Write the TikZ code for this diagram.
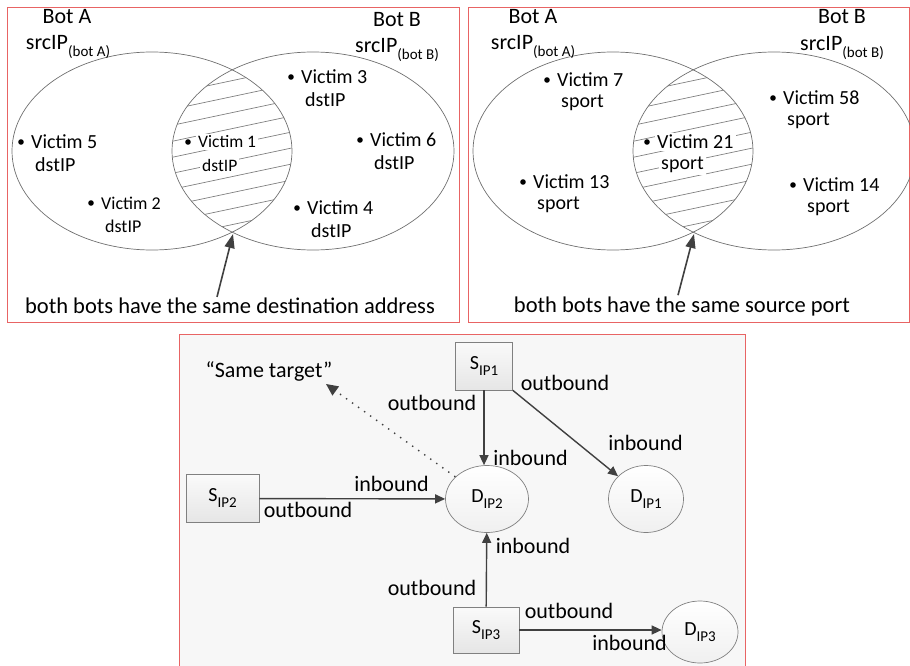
\documentclass[tikz,border=0pt]{standalone}
\usepackage{fontspec}
\setmainfont{Carlito}
\usepackage{xcolor}
\usepackage{tikz}
\usetikzlibrary{arrows.meta}
\usetikzlibrary{calc}
\usetikzlibrary{shapes}
\usetikzlibrary{positioning}

\definecolor{panelred}{HTML}{E86464}
\definecolor{arrowgray}{HTML}{404040}
\definecolor{linegray}{HTML}{707070}

% lowered small text (subscripts)
\newcommand{\lowtext}[1]{\raisebox{-0.3em}{\fontsize{15}{15}\selectfont #1}}

\begin{document}
\begin{tikzpicture}[x=1pt, y=-1pt,
        panel/.style={draw=panelred, line width=0.8pt},
        setline/.style={draw=linegray, line width=0.7pt},
        hatch/.style={draw=gray, line width=0.7pt},
        botlabel/.style={font=\fontsize{22}{24}\selectfont, inner sep=0pt},
        vlabel/.style={fill=white, inner sep=2pt, anchor=west},
        note/.style={font=\fontsize{22.5}{24}\selectfont, inner sep=1pt},
        flowlabel/.style={font=\fontsize{22}{24}\selectfont, inner sep=0pt},
        pointer/.style={draw=arrowgray, line width=1.6pt, -{Triangle[length=14pt,width=10pt]}},
        link/.style={draw=arrowgray, line width=1.4pt, -{Triangle[length=10pt,width=9pt]}},
        dotlink/.style={draw=arrowgray, line width=1.4pt, dash pattern=on 1.4pt off 6pt, -{Triangle[length=12pt,width=11pt]}},
        srcbox/.style={draw=gray, line width=0.7pt, top color=gray!4, bottom color=gray!20,
            minimum width=57pt, minimum height=48pt, font=\fontsize{20}{22}\selectfont},
        dstnode/.style={ellipse, draw=gray, line width=0.7pt, top color=white, bottom color=gray!12,
            minimum width=75pt, minimum height=67pt, font=\fontsize{20}{22}\selectfont}
    ]

    \useasboundingbox (0,0) rectangle (910,666);

    %=== Panels ===%
    \draw[panel] (7,7) rectangle (459,322);
    \draw[panel] (468,7) rectangle (909.5,322);
    \fill[gray!6] (179,334) rectangle (745,672);
    \draw[panel] (179,334) rectangle (745,672);

    %=== Venn diagrams with hatched overlap ===%
    \foreach \dx in {0,461} {
        \begin{scope}
            \clip (152+\dx,151) ellipse [x radius=140pt, y radius=99pt];
            \clip (313+\dx,151) ellipse [x radius=141pt, y radius=99pt];
            \foreach \k in {0,...,16}
                \draw[hatch] (150+\dx,34+16*\k) -- (320+\dx,34+16*\k-36);
        \end{scope}
        \draw[setline] (152+\dx,151) ellipse [x radius=140pt, y radius=99pt];
        \draw[setline] (313+\dx,151) ellipse [x radius=141pt, y radius=99pt];
    }

    %=== Bot labels ===%
    \node[botlabel] (botA) at (67,17) {Bot A};
    \node[botlabel] (srcA) at (68,47) {srcIP\lowtext{(bot A)}};
    \node[botlabel] (botB) at (397,20) {Bot B};
    \node[botlabel] (srcB) at (397,50) {srcIP\lowtext{(bot B)}};
    \node[botlabel] (botC) at (533,17) {Bot A};
    \node[botlabel] (srcC) at (533,47) {srcIP\lowtext{(bot A)}};
    \node[botlabel] (botD) at (842,17) {Bot B};
    \node[botlabel] (srcD) at (842,48) {srcIP\lowtext{(bot B)}};

    %=== Macro to place victims ===%
    % #1 = node name
    % #2, #3 = dot position
    % #4 = victim number
    % #5 = second line
    % #6 = font
    \newcommand{\victim}[6]{
        \fill (#2,#3) circle [radius=2.8pt];
        \node[vlabel, font=#6] (#1) at (#2+8,#3) {Victim #4};
        \node[vlabel, font=#6] (#1b) at (#2+12,#3+23) {#5};
    }

    \victim{v5}{21}{142}{5}{dstIP}{\fontsize{20}{22}\selectfont}
    \victim{v2}{91}{203}{2}{dstIP}{\fontsize{18}{20}\selectfont}
    \victim{v1}{188}{142}{1}{dstIP}{\fontsize{17.5}{20}\selectfont}
    \victim{v3}{291}{77}{3}{dstIP}{\fontsize{20}{22}\selectfont}
    \victim{v6}{360}{140}{6}{dstIP}{\fontsize{20}{22}\selectfont}
    \victim{v4}{297}{208}{4}{dstIP}{\fontsize{20}{22}\selectfont}

    \victim{v7}{547}{80}{7}{sport}{\fontsize{20}{22}\selectfont}
    \victim{v13}{523}{182}{13}{sport}{\fontsize{20}{22}\selectfont}
    \victim{v21}{647}{142}{21}{sport}{\fontsize{20}{22}\selectfont}
    \victim{v58}{773}{98}{58}{sport}{\fontsize{20}{22}\selectfont}
    \victim{v14}{793}{185}{14}{sport}{\fontsize{20}{22}\selectfont}

    %=== Notes under the diagrams ===%
    \node[note] (noteA) at (230,306) {both bots have the same destination address};
    \node[note] (noteB) at (682,306) {both bots have the same source port};
    \coordinate (meetA) at (233,234);
    \coordinate (meetB) at (694,234);
    \draw[pointer] ($(noteA.north)+(-13,0)$) -- (meetA);
    \draw[pointer] ($(noteB.north)+(-4,0)$) -- (meetB);

    %=== Flow graph ===%
    \node[srcbox] (s1) at (484,366) {S\lowtext{IP1}};
    \node[srcbox, minimum width=73pt] (s2) at (222.5,498.5) {S\lowtext{IP2}};
    \node[srcbox, minimum width=66pt, minimum height=46pt] (s3) at (486,630) {S\lowtext{IP3}};
    \node[dstnode, minimum width=83pt] (d2) at (487,499) {D\lowtext{IP2}};
    \node[dstnode] (d1) at (646,499) {D\lowtext{IP1}};
    \node[dstnode, minimum width=76pt, minimum height=62pt] (d3) at (700,632) {D\lowtext{IP3}};

    \coordinate (sametip) at (326,384);
    \node[flowlabel] (same) at (269,371) {``Same target''};

    \draw[link] (s1.south) -- (s1.south |- d2.north);
    \draw[link] (s1.south east) -- (d1);
    \draw[link] (s2) -- (d2);
    \draw[link] (s3) -- (d2);
    \draw[link] (s3.east) -- (s3.east -| d3.west);
    \draw[dotlink] (d2.145) -- (sametip);

    \node[flowlabel] (ob1) at (432,403) {outbound};
    \node[flowlabel] (ib1) at (530.5,458) {inbound};
    \node[flowlabel] (ob2) at (565,383) {outbound};
    \node[flowlabel] (ib2) at (645.5,443) {inbound};
    \node[flowlabel] (ib3) at (391.5,484) {inbound};
    \node[flowlabel] (ob3) at (308,510) {outbound};
    \node[flowlabel] (ib4) at (533,546) {inbound};
    \node[flowlabel] (ob4) at (432,588) {outbound};
    \node[flowlabel] (ob5) at (569,611) {outbound};
    \node[flowlabel] (ib5) at (629.5,643) {inbound};

\end{tikzpicture}
\end{document}
